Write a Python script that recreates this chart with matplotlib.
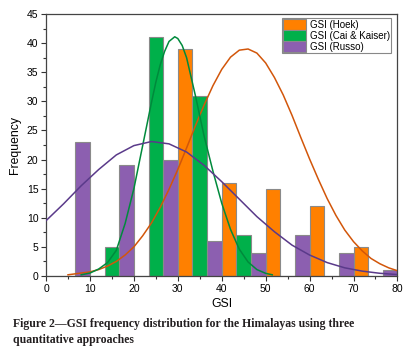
import matplotlib
matplotlib.use("Agg")
import matplotlib.pyplot as plt
from matplotlib.ticker import MultipleLocator

# histogram classes (left edge of each 10-unit GSI class)
bin_start = [0, 10, 20, 30, 40, 50, 60, 70]
hoek = [0, 0, 0, 39, 16, 15, 12, 5]
cai_kaiser = [0, 5, 41, 31, 7, 0, 0, 0]
russo = [23, 19, 20, 6, 4, 7, 4, 1]

# fitted distribution curves
hoek_fit_x = [5, 8, 10, 12, 14, 16, 18, 20, 22, 24, 26, 28, 30, 32, 34, 36, 38, 40, 42, 44,
              46, 48, 50, 52, 54, 56, 58, 60, 62, 64, 66, 68, 70, 72, 74, 76, 78, 80]
hoek_fit_y = [0.2, 0.5, 0.7, 1.1, 1.7, 2.5, 3.6, 5.0, 6.9, 9.1, 11.8, 14.9, 18.3, 22.0, 25.8, 29.4,
              32.7, 35.5, 37.6, 38.8, 39.0, 38.3, 36.6, 34.1, 31.1, 27.6, 23.8, 20.1, 16.6, 13.3,
              10.4, 7.9, 5.9, 4.3, 3.0, 2.1, 1.4, 0.9]
cai_fit_x = [8, 10, 12, 14, 16, 18, 20, 22, 24, 25, 26, 27, 28, 29.3, 30, 31, 32, 34, 36, 38,
             40, 42, 44, 46, 48, 50, 51.5]
cai_fit_y = [0.2, 0.5, 1.2, 2.3, 4.4, 9.0, 15.0, 22.4, 29.8, 33.3, 36.3, 38.6, 40.3, 41.1, 40.8,
             39.6, 37.5, 31.0, 24.0, 18.0, 12.5, 8.0, 4.6, 2.4, 1.1, 0.45, 0.2]
russo_fit_x = [0, 4, 8, 12, 16, 20, 24, 28, 32, 36, 40, 44, 48, 52, 56, 60, 64, 68, 72, 76, 80]
russo_fit_y = [9.5, 12.4, 15.5, 18.3, 20.8, 22.4, 23.1, 22.7, 21.3, 19.0, 16.2, 13.2, 10.2, 7.6,
               5.3, 3.6, 2.3, 1.4, 0.83, 0.46, 0.24]

labels = ["GSI (Hoek)", "GSI (Cai & Kaiser)", "GSI (Russo)"]
bar_colors = ["#ff8000", "#00b04a", "#8c5fb0"]
line_colors = ["#d2560a", "#008a3c", "#5a3a8a"]

plt.rcParams["font.family"] = ["Liberation Sans", "DejaVu Sans"]

fig = plt.figure(figsize=(4.11, 3.52), dpi=100)
ax = fig.add_axes([0.112, 0.216, 0.855, 0.744])

w = 10 / 3
series = [hoek, cai_kaiser, russo]
for i, vals in enumerate(series):
    xs = [b + i * w for b in bin_start]
    ax.bar(xs, vals, width=w, align="edge", color=bar_colors[i],
           edgecolor="#8a8a8a", linewidth=0.8, label=labels[i], zorder=2)

ax.plot(hoek_fit_x, hoek_fit_y, color=line_colors[0], lw=1.1, zorder=3)
ax.plot(cai_fit_x, cai_fit_y, color=line_colors[1], lw=1.1, zorder=3)
ax.plot(russo_fit_x, russo_fit_y, color=line_colors[2], lw=1.1, zorder=3)

ax.set_xlim(0, 80)
ax.set_ylim(0, 45)
ax.xaxis.set_major_locator(MultipleLocator(10))
ax.xaxis.set_minor_locator(MultipleLocator(5))
ax.yaxis.set_major_locator(MultipleLocator(5))
ax.yaxis.set_minor_locator(MultipleLocator(2.5))
ax.tick_params(which="major", direction="out", length=3.5, width=0.8, labelsize=7.5,
               colors="#333333", labelcolor="black", pad=2)
ax.tick_params(which="minor", direction="out", length=2, width=0.8, colors="#333333")
for s in ax.spines.values():
    s.set_color("#444444")
    s.set_linewidth(0.9)

ax.set_xlabel("GSI", fontsize=8.8, labelpad=3)
ax.set_ylabel("Frequency", fontsize=8.8, labelpad=4)

leg = ax.legend(loc="upper right", bbox_to_anchor=(0.983, 0.985), borderaxespad=0,
                fontsize=7, frameon=True, fancybox=False, framealpha=1,
                edgecolor="#888888", borderpad=0.15, labelspacing=0.05,
                handlelength=2.4, handleheight=1.25, handletextpad=0.35)
leg.get_frame().set_linewidth(0.8)

fig.text(0.031, 0.057, "Figure 2\u2014GSI frequency distribution for the Himalayas using three\nquantitative approaches",
         fontsize=8.5, fontweight="bold", family=["Liberation Serif", "DejaVu Serif"],
         color="#231f20", ha="left", va="center", linespacing=1.35)

fig.savefig("out.png", dpi=100)
